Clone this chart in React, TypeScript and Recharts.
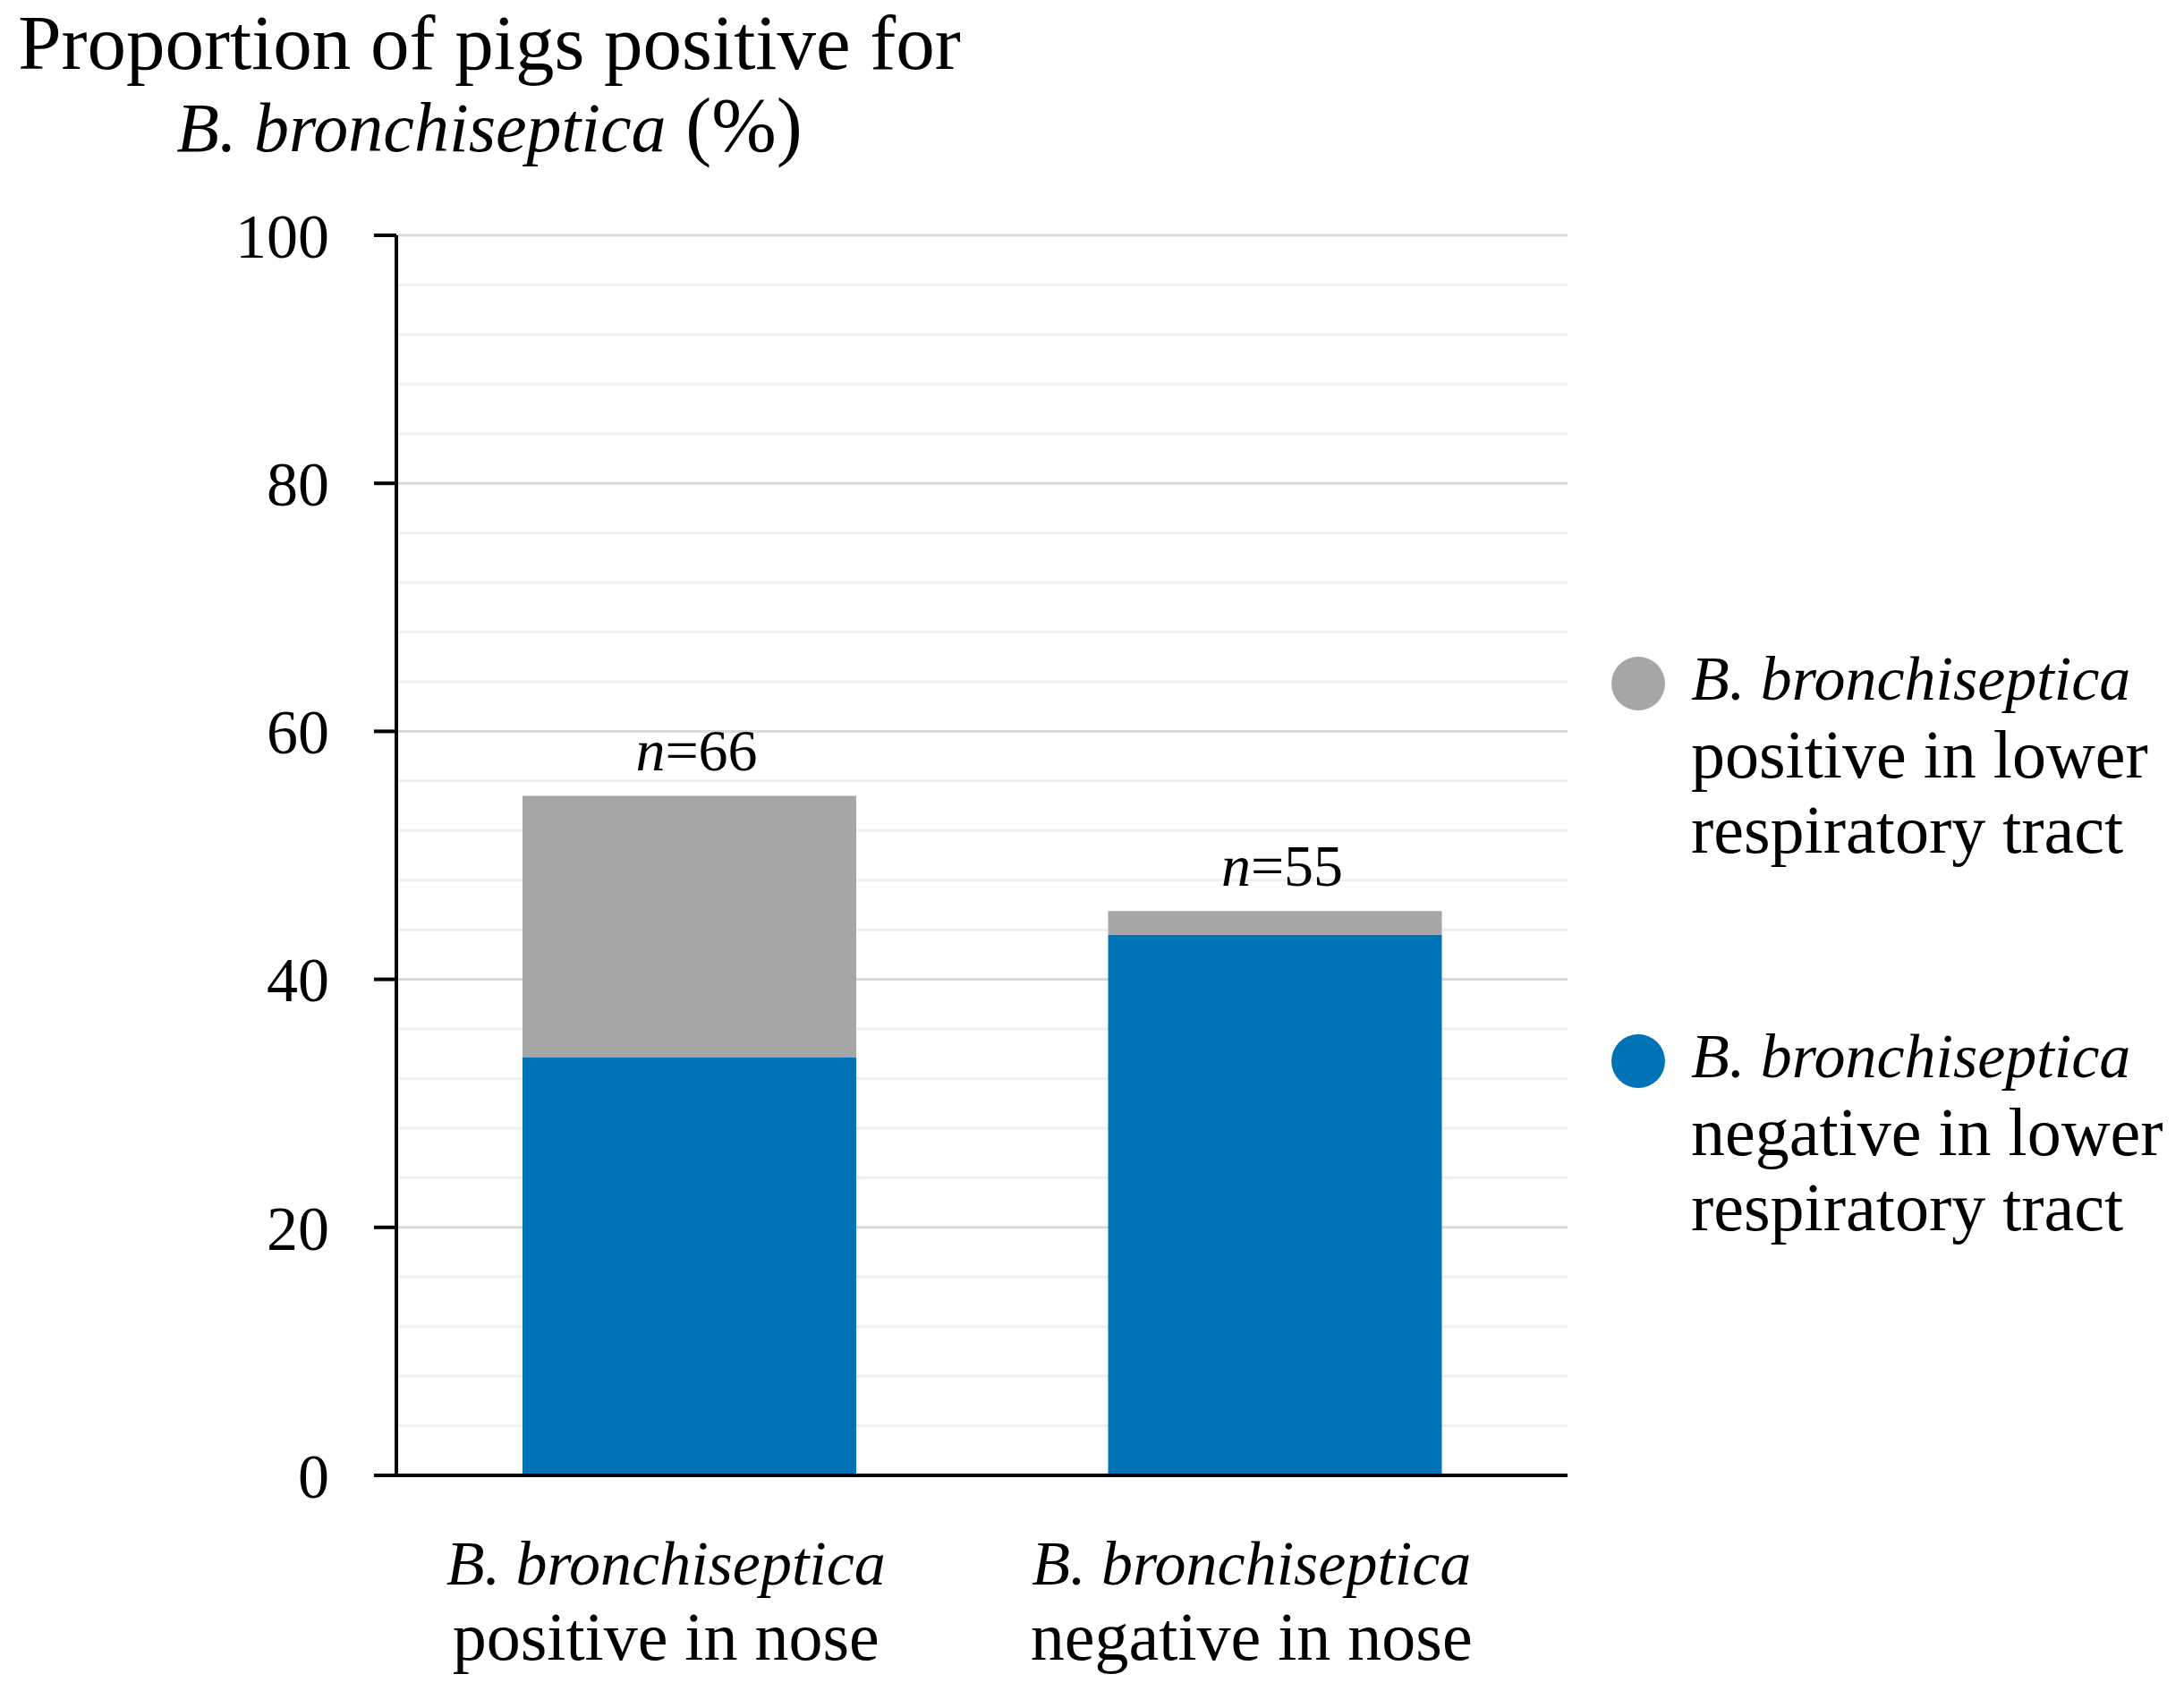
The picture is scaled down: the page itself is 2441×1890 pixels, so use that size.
import React from "react";
import {
  Bar,
  BarChart,
  CartesianGrid,
  LabelList,
  Legend,
  XAxis,
  YAxis,
} from "recharts";

const SERIF = '"Liberation Serif", "Times New Roman", serif';
const BLUE = "#0073b7";
const GREY = "#a6a6a6";

const species = "B. bronchiseptica";

// categories (second line of the x labels)
const noseStatus = ["positive in nose", "negative in nose"];
// % of pigs, stacked: negative in lower tract at the bottom, positive on top
const negativeLower = [33.7, 43.6];
const positiveLower = [21.1, 1.9];
const sampleSizes = [66, 55];

const yTicks = [0, 20, 40, 60, 80, 100];
const minorGrid = [4, 8, 12, 16, 24, 28, 32, 36, 44, 48, 52, 56, 64, 68, 72, 76, 84, 88, 92, 96];

const legendFirstLines = ["negative in lower", "positive in lower"];
const legendLastLine = "respiratory tract";

const data = noseStatus.map((status, i) => ({
  status,
  negLower: negativeLower[i],
  posLower: positiveLower[i],
  n: sampleSizes[i],
}));

function NoseTick({ x, y, payload }: any) {
  return (
    <g transform={`translate(${x - 26},${y})`}>
      <text textAnchor="middle" fontFamily={SERIF} fill="#000">
        <tspan x={0} y={122} fontStyle="italic" fontSize={70}>
          {species}
        </tspan>
        <tspan x={0} y={206} fontSize={76}>
          {payload.value}
        </tspan>
      </text>
    </g>
  );
}

function SampleLabel(props: any) {
  const box = props.viewBox ?? props;
  const cx = box.x + box.width / 2;
  return (
    <text
      x={cx + 8}
      y={box.y - 28}
      textAnchor="middle"
      fontFamily={SERIF}
      fontSize={66}
      fill="#000"
    >
      <tspan fontStyle="italic">n</tspan>
      <tspan>={props.value}</tspan>
    </text>
  );
}

function LowerTractLegend({ payload }: any) {
  const items = [...(payload ?? [])].reverse();
  return (
    <div style={{ fontFamily: SERIF, color: "#000", textAlign: "left" }}>
      {items.map((item: any, i: number) => (
        <div
          key={item.value}
          style={{ position: "relative", paddingLeft: 89, marginTop: i === 0 ? 0 : 170 }}
        >
          <span
            style={{
              position: "absolute",
              left: 0,
              top: 17,
              width: 60,
              height: 60,
              borderRadius: "50%",
              background: item.color,
            }}
          />
          <div style={{ fontStyle: "italic", fontSize: 70, lineHeight: "84px" }}>{species}</div>
          <div style={{ fontSize: 76, lineHeight: "84px" }}>{item.value}</div>
          <div style={{ fontSize: 76, lineHeight: "84px" }}>{legendLastLine}</div>
        </div>
      ))}
    </div>
  );
}

export default function App() {
  return (
    <div style={{ position: "relative", width: 2441, height: 1890, background: "#fff" }}>
      <style>{`body{margin:0;}`}</style>
      <div
        style={{
          position: "absolute",
          left: 0,
          top: 2,
          width: 1094,
          textAlign: "center",
          fontFamily: SERIF,
          fontSize: 87,
          lineHeight: "92px",
          color: "#000",
        }}
      >
        <div>Proportion of pigs positive for</div>
        <div>
          <i style={{ fontSize: 78 }}>{species}</i> (%)
        </div>
      </div>
      <BarChart
        width={2441}
        height={1890}
        data={data}
        margin={{ top: 263, right: 689, bottom: 0, left: 0 }}
      >
        <CartesianGrid
          vertical={false}
          horizontalValues={minorGrid}
          stroke="#efefef"
          strokeWidth={3}
        />
        <CartesianGrid vertical={false} stroke="#d9d9d9" strokeWidth={3} />
        <XAxis
          dataKey="status"
          height={241}
          interval={0}
          tickLine={false}
          tickSize={0}
          tickMargin={0}
          axisLine={{ stroke: "#000", strokeWidth: 4 }}
          tick={<NoseTick />}
        />
        <YAxis
          domain={[0, 100]}
          ticks={yTicks}
          interval={0}
          width={443}
          tickSize={25}
          tickMargin={50}
          axisLine={{ stroke: "#000", strokeWidth: 4 }}
          tickLine={{ stroke: "#000", strokeWidth: 4 }}
          tick={{ fontSize: 70, fontFamily: SERIF, fill: "#000" }}
        />
        <Legend
          layout="vertical"
          align="center"
          verticalAlign="middle"
          wrapperStyle={{ left: 1801, top: 717, width: 640 }}
          content={<LowerTractLegend />}
        />
        <Bar
          dataKey="negLower"
          name={legendFirstLines[0]}
          stackId="a"
          fill={BLUE}
          barSize={373}
          isAnimationActive={false}
        />
        <Bar
          dataKey="posLower"
          name={legendFirstLines[1]}
          stackId="a"
          fill={GREY}
          barSize={373}
          isAnimationActive={false}
        >
          <LabelList dataKey="n" content={<SampleLabel />} />
        </Bar>
      </BarChart>
    </div>
  );
}
